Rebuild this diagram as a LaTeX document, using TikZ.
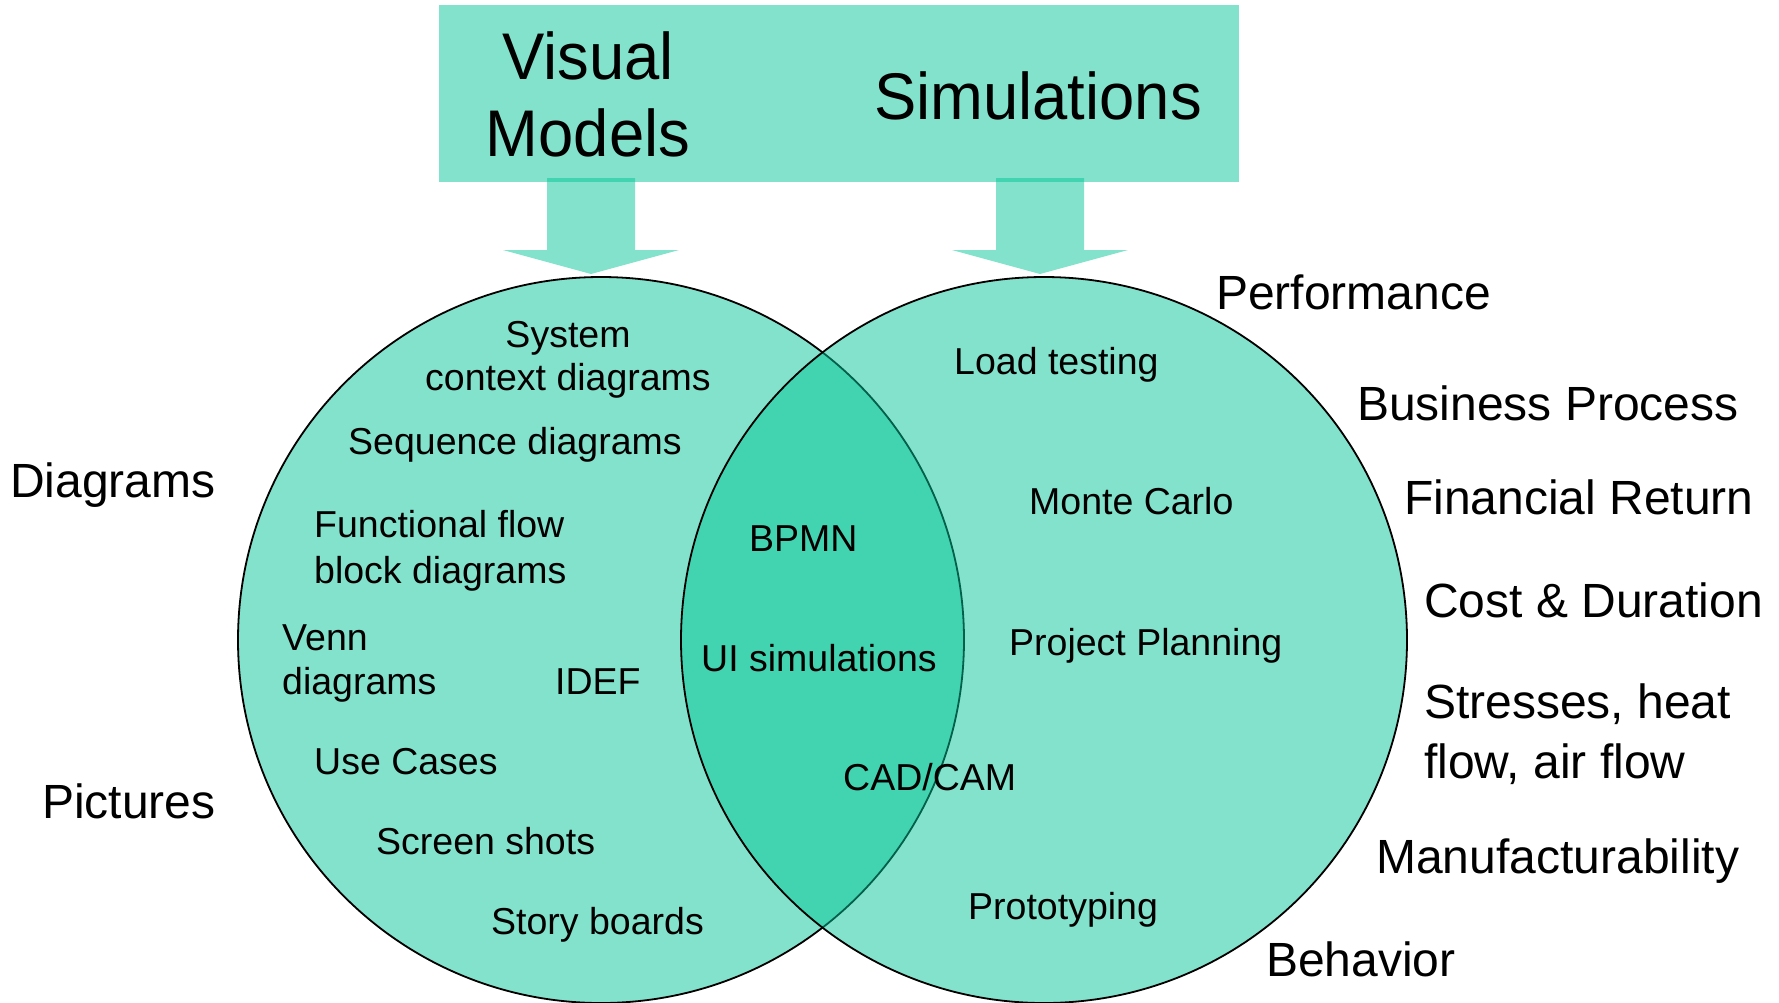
\documentclass[tikz,border=0pt]{standalone}
\usepackage{fontspec}
\setmainfont{Liberation Sans}
\newfontfamily\headfont[FakeStretch=0.96]{Liberation Sans}

\definecolor{vennbase}{RGB}{0,196,150}

\begin{document}
\begin{tikzpicture}[x=1pt,y=-1pt,
  tq/.style={fill=vennbase, fill opacity=0.49},
  ring/.style={tq, draw=black, line width=1.8pt, draw opacity=1},
  lbl/.style={font=\fontsize{48}{56}\selectfont, anchor=base west, inner sep=0pt},
  itm/.style={font=\fontsize{37.5}{44}\selectfont, anchor=base west, inner sep=0pt},
  itmc/.style={itm, anchor=base},
  head/.style={font=\headfont\fontsize{66}{77}\selectfont, anchor=base, inner sep=0pt}]
\useasboundingbox (0,0) rectangle (1779,1002);

% title banner
\fill[tq] (439,5) rectangle (1239,182);

% block arrows pointing down into the two sets
\fill[tq] (547,178) -- (635,178) -- (635,250) -- (679,250) -- (591,274)
  -- (503,250) -- (547,250) -- cycle;
\fill[tq] (996,178) -- (1084,178) -- (1084,250) -- (1128,250) -- (1040,274)
  -- (952,250) -- (996,250) -- cycle;

% the two overlapping sets
\path[ring] (601,640) circle[radius=363pt];
\path[ring] (1044,640) circle[radius=363pt];

% banner headings
\node[head] (visual) at (588,79) {Visual};
\node[head] (models) at (588,156) {Models};
\node[head] (sims) at (1038,119) {Simulations};

% left set: visual models
\node[itmc] (sys1) at (568,347) {System};
\node[itmc] (sys2) at (568,390) {context diagrams};
\node[itm] (seq) at (348,454) {Sequence diagrams};
\node[itm] (ffb1) at (314,537) {Functional flow};
\node[itm] (ffb2) at (314,583) {block diagrams};
\node[itm] (venn1) at (282,650) {Venn};
\node[itm] (venn2) at (282,694) {diagrams};
\node[itm] (idef) at (555,694) {IDEF};
\node[itm] (uc) at (314,774) {Use Cases};
\node[itm] (scr) at (376,854) {Screen shots};
\node[itm] (story) at (491,934) {Story boards};

% overlap
\node[itm] (bpmn) at (749,551) {BPMN};
\node[itm] (ui) at (701,671) {UI simulations};
\node[itm] (cad) at (843,790) {CAD/CAM};

% right set: simulations
\node[itm] (load) at (954,374) {Load testing};
\node[itm] (monte) at (1029,514) {Monte Carlo};
\node[itm] (plan) at (1009,655) {Project Planning};
\node[itm] (proto) at (968,919) {Prototyping};

% outer labels, left
\node[lbl] (diag) at (10,497) {Diagrams};
\node[lbl] (pics) at (42,818) {Pictures};

% outer labels, right
\node[lbl] (perf) at (1216,309) {Performance};
\node[lbl] (busi) at (1357,420) {Business Process};
\node[lbl] (fin) at (1404,514) {Financial Return};
\node[lbl] (cost) at (1424,617) {Cost \& Duration};
\node[lbl] (str1) at (1424,718) {Stresses, heat};
\node[lbl] (str2) at (1424,778) {flow, air flow};
\node[lbl] (manu) at (1376,873) {Manufacturability};
\node[lbl] (behav) at (1266,976) {Behavior};
\end{tikzpicture}
\end{document}
